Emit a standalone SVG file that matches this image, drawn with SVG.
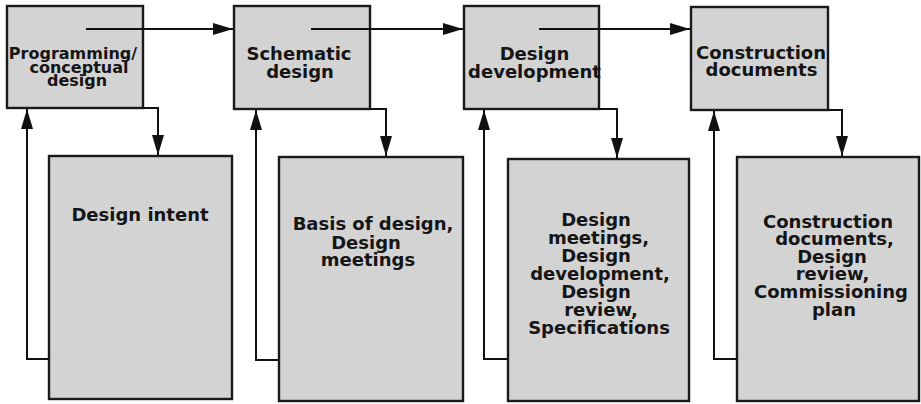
<svg xmlns="http://www.w3.org/2000/svg" width="921" height="404" viewBox="0 0 921 404">
<defs>
<marker id="ah" markerUnits="userSpaceOnUse" markerWidth="20" markerHeight="12" refX="20" refY="6" orient="auto">
<path d="M0,0 L20,6 L0,12 z" fill="#111"/>
</marker>
<style>
.box{fill:#d3d3d3;stroke:#1a1a1a;stroke-width:2.4}
.t{font-family:"DejaVu Sans","Liberation Sans",sans-serif;font-weight:bold;font-size:18px;fill:#151515;text-anchor:middle}
.s{font-size:16px}
.c{fill:none;stroke:#111;stroke-width:2}
</style>
</defs>
<rect width="921" height="404" fill="#fff"/>
<g id="n1"><rect class="box" x="7" y="6" width="136" height="102"/>
<text class="t s" x="73" y="59">Programming/</text><text class="t s" x="79" y="72.5">conceptual</text><text class="t s" x="77" y="86">design</text></g>
<g id="n2"><rect class="box" x="234" y="6" width="136" height="103"/>
<text class="t" x="299" y="59.5">Schematic</text><text class="t" x="300" y="77.5">design</text></g>
<g id="n3"><rect class="box" x="464" y="6" width="135" height="103"/>
<text class="t" x="534.5" y="60">Design</text><text class="t" x="534.5" y="77.5">development</text></g>
<g id="n4"><rect class="box" x="691" y="7" width="137" height="103"/>
<text class="t" x="761" y="58.5">Construction</text><text class="t" x="761.5" y="76">documents</text></g>
<g id="b1"><rect class="box" x="49" y="156" width="183" height="243"/>
<text class="t" x="140" y="221">Design intent</text></g>
<g id="b2"><rect class="box" x="279" y="157" width="184" height="244"/>
<text class="t" x="373" y="230">Basis of design,</text><text class="t" x="366" y="248.5">Design</text><text class="t" x="368" y="266">meetings</text></g>
<g id="b3"><rect class="box" x="508" y="159" width="181" height="242"/>
<text class="t" x="596" y="226">Design</text><text class="t" x="598.5" y="244">meetings,</text><text class="t" x="596" y="262">Design</text><text class="t" x="600" y="280">development,</text><text class="t" x="596" y="298">Design</text><text class="t" x="601" y="316">review,</text><text class="t" x="599" y="334">Specifications</text></g>
<g id="b4"><rect class="box" x="737" y="157" width="182" height="244"/>
<text class="t" x="828" y="227.5">Construction</text><text class="t" x="834.5" y="245">documents,</text><text class="t" x="832" y="262.7">Design</text><text class="t" x="832.5" y="280.4">review,</text><text class="t" x="831" y="298">Commissioning</text><text class="t" x="834" y="316">plan</text></g>
<g id="connectors">
<path class="c" d="M86,29 H233" marker-end="url(#ah)"/>
<path class="c" d="M311,29 H463" marker-end="url(#ah)"/>
<path class="c" d="M539,29 H690" marker-end="url(#ah)"/>
<path class="c" d="M143,108 H158 V155" marker-end="url(#ah)"/>
<path class="c" d="M370,109 H386 V156" marker-end="url(#ah)"/>
<path class="c" d="M599,109 H617 V158" marker-end="url(#ah)"/>
<path class="c" d="M828,110 H842 V156" marker-end="url(#ah)"/>
<path class="c" d="M49,359 H27 V109" marker-end="url(#ah)"/>
<path class="c" d="M279,360 H256 V110" marker-end="url(#ah)"/>
<path class="c" d="M508,359 H484 V110" marker-end="url(#ah)"/>
<path class="c" d="M737,359 H714 V111" marker-end="url(#ah)"/>
</g>
</svg>
